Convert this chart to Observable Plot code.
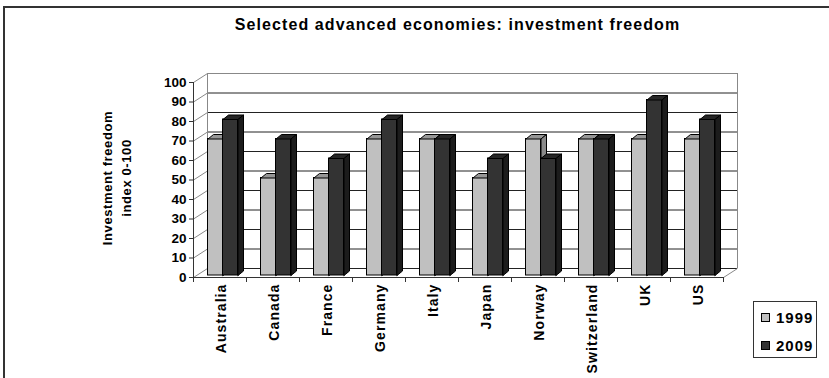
<!DOCTYPE html>
<html>
<head>
<meta charset="utf-8">
<script src="https://cdn.jsdelivr.net/npm/d3@7"></script>
<script src="https://cdn.jsdelivr.net/npm/@observablehq/plot@0.6"></script>
<style>
  html, body { margin: 0; padding: 0; background: #fff; overflow: hidden; }
  body { width: 829px; height: 378px; position: relative; font-family: "Liberation Sans", Arial, sans-serif; }
  #frame { position: absolute; left: 3px; top: 6px; width: 900px; height: 500px; border: 2px solid #333; box-sizing: border-box; }
  #chart { position: absolute; left: 0; top: 0; }
  #chart svg { display: block; background: transparent; }
  #legend { position: absolute; left: 753px; top: 301px; width: 64px; height: 57px; border: 1px solid #333; box-sizing: border-box; background: #fff; }
  .item { position: absolute; left: 7px; height: 16px; font-weight: bold; font-size: 15px; letter-spacing: 1px; line-height: 16px; color: #000; }
  .sw { position: absolute; left: 0; top: 3px; width: 9px; height: 9px; border: 1px solid #000; box-sizing: border-box; }
  .lab { position: absolute; left: 15px; top: 0; }
</style>
</head>
<body>
<div id="frame"></div>
<div id="chart"></div>
<div id="legend"></div>
<script>
// ---- data ----
const titleText = "Selected advanced economies: investment freedom";
const yLabelLines = ["Investment freedom", "index 0-100"];
const categories = ["Australia", "Canada", "France", "Germany", "Italy", "Japan", "Norway", "Switzerland", "UK", "US"];
const seriesNames = ["1999", "2009"];
const values1999 = [70, 50, 50, 70, 70, 50, 70, 70, 70, 70];
const values2009 = [80, 70, 60, 80, 70, 60, 60, 70, 90, 80];
const yTicks = [0, 10, 20, 30, 40, 50, 60, 70, 80, 90, 100];

// ---- style / layout ----
const frontColors = ["#c0c0c0", "#333333"];
const topColors = ["#969696", "#262626"];
const sideColors = ["#8a8a8a", "#1c1c1c"];

const W = 829, H = 378, mL = 193, mR = 106, mT = 82, mB = 101;
const n = categories.length;
const pxX = (W - mL - mR) / n;      // px per category
const pxY = (H - mT - mB) / 100;    // px per unit
const wallDX = 14 / pxX, wallDY = 9 / pxY;   // back-wall depth in data units
const barW = 15 / pxX, barOff = 14.5 / pxX;  // bar width & offset
const capDX = 5.5 / pxX, capDY = 4.5 / pxY;  // bar 3D depth
const lift = -2;

const seriesValues = [values1999, values2009];
const bars = [];
seriesValues.forEach((vals, s) => {
  vals.forEach((v, i) => {
    const x1 = i + barOff + s * barW;
    bars.push({s, i, v, x1, x2: x1 + barW, id: s + "-" + i});
  });
});
function topPoly(b) {
  return [[b.x1, b.v], [b.x2, b.v], [b.x2 + capDX, b.v + capDY], [b.x1 + capDX, b.v + capDY], [b.x1, b.v]]
    .map(([x, y]) => ({x, y, id: b.id}));
}
function sidePoly(b) {
  return [[b.x2, 0], [b.x2 + capDX, capDY], [b.x2 + capDX, b.v + capDY], [b.x2, b.v], [b.x2, 0]]
    .map(([x, y]) => ({x, y, id: b.id}));
}

const barMarks = [];
[0, 1].forEach(s => {
  const bs = bars.filter(b => b.s === s);
  barMarks.push(
    Plot.rect(bs, {x1: "x1", x2: "x2", y1: 0, y2: "v", fill: frontColors[s], stroke: "#000", strokeWidth: 1, dy: lift}),
    Plot.line(bs.flatMap(topPoly), {x: "x", y: "y", z: "id", fill: topColors[s], stroke: "#000", strokeWidth: 1, dy: lift}),
    Plot.line(bs.flatMap(sidePoly), {x: "x", y: "y", z: "id", fill: sideColors[s], stroke: "#000", strokeWidth: 1, dy: lift})
  );
});

const boundaries = d3.range(n + 1);

const chart = Plot.plot({
  width: W, height: H,
  marginLeft: mL, marginRight: mR, marginTop: mT, marginBottom: mB,
  style: {fontFamily: "'Liberation Sans', Arial, sans-serif", color: "#000", background: "transparent", overflow: "visible"},
  x: {domain: [0, n], axis: null},
  y: {domain: [0, 100], axis: null},
  marks: [
    // back wall grid
    Plot.ruleY(yTicks.filter(t => t < 100), {x1: wallDX, x2: n + wallDX, y: d => d + wallDY, stroke: "#222", strokeWidth: 1}),
    Plot.ruleY([100], {x1: wallDX, x2: n + wallDX, y: d => d + wallDY, stroke: "#888", strokeWidth: 1}),
    Plot.ruleX([wallDX, n + wallDX], {y1: wallDY, y2: 100 + wallDY, stroke: "#888", strokeWidth: 1}),
    // side wall diagonals
    Plot.link(yTicks, {x1: 0, y1: d => d, x2: wallDX, y2: d => d + wallDY, stroke: "#888", strokeWidth: 1}),
    // floor right diagonal
    Plot.link([0], {x1: n, y1: 0, x2: n + wallDX, y2: wallDY, stroke: "#888", strokeWidth: 1}),
    // bars
    ...barMarks,
    // front axes
    Plot.ruleY([0], {x1: 0, x2: n, stroke: "#333", strokeWidth: 1}),
    Plot.ruleX([0], {y1: 0, y2: 100, stroke: "#333", strokeWidth: 1}),
    Plot.axisY({ticks: yTicks, tickSize: 4, tickPadding: 3, fontSize: 13.5, fontWeight: "bold", color: "#000", stroke: "#333", label: null}),
    Plot.axisX({ticks: boundaries, tickSize: 5, tickFormat: () => "", stroke: "#333", label: null}),
    Plot.text(categories, {x: (d, i) => i + 0.5, y: 0, dy: 6, dx: 2, rotate: -90, textAnchor: "end", lineAnchor: "middle", fontSize: 14, fontWeight: "bold", fill: "#000"}),
    // y label
    Plot.text([yLabelLines.join("\n")], {frameAnchor: "left", dx: -78, dy: -2, rotate: -90, textAnchor: "middle", lineAnchor: "middle", lineHeight: 1.45, fontSize: 13, fontWeight: "bold", fill: "#000"}),
    // title
    Plot.text([titleText], {frameAnchor: "top", dy: -58, dx: -1, textAnchor: "middle", lineAnchor: "middle", fontSize: 16, fontWeight: "bold", fill: "#000"})
  ]
});
document.getElementById("chart").appendChild(chart);

// letter spacing to mimic the reference's rendering
d3.select(chart).selectAll("text").each(function() {
  const t = this.textContent;
  let ls = null;
  if (t === titleText) ls = "1.1px";
  else if (categories.includes(t)) ls = "1.1px";
  else if (t === yLabelLines.join("") || yLabelLines.includes(t)) ls = "0.6px";
  if (ls) {
    this.style.letterSpacing = ls;
    d3.select(this).selectAll("tspan").style("letter-spacing", ls);
  }
});

// legend
const legend = document.getElementById("legend");
seriesNames.forEach((name, s) => {
  const item = document.createElement("div");
  item.className = "item";
  item.style.top = (8 + s * 28) + "px";
  const sw = document.createElement("div");
  sw.className = "sw";
  sw.style.background = frontColors[s];
  const lab = document.createElement("div");
  lab.className = "lab";
  lab.textContent = name;
  item.appendChild(sw);
  item.appendChild(lab);
  legend.appendChild(item);
});
</script>
</body>
</html>
